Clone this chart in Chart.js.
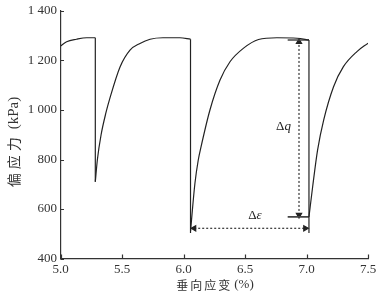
<!DOCTYPE html>
<html lang="zh">
<head>
<meta charset="utf-8">
<title>偏应力-垂向应变</title>
<script src="https://cdn.jsdelivr.net/npm/chart.js@4.4.1/dist/chart.umd.min.js"></script>
<style>
  html, body { margin: 0; padding: 0; background: #fff; }
  #chart { display: block; }
</style>
</head>
<body>
<canvas id="chart" width="387" height="297"></canvas>
<script>
// tick values
const strainTicks = [5.0, 5.5, 6.0, 6.5, 7.0, 7.5];
const stressTicks = [400, 600, 800, 1000, 1200, 1400];

// curve (strain %, deviator stress kPa)
const seg1Strain = [5.0, 5.05, 5.13, 5.213, 5.283];
const seg1Stress = [1259, 1276, 1286, 1292, 1292];

const rec1Strain = [5.283, 5.30, 5.33, 5.37, 5.40, 5.484, 5.565, 5.646, 5.728, 5.833, 5.971, 6.057];
const rec1Stress = [710, 800, 900, 990, 1045, 1174, 1242, 1269, 1286, 1292, 1292, 1286];

const rec2Strain = [6.057, 6.093, 6.12, 6.142, 6.215, 6.297, 6.378, 6.486, 6.61, 6.76, 6.923, 7.02];
const rec2Stress = [510, 704, 798, 850, 1000, 1121, 1195, 1249, 1285, 1292, 1290, 1283];

const rec3Strain = [7.02, 7.05, 7.09, 7.14, 7.22, 7.30, 7.41, 7.5];
const rec3Stress = [568, 690, 838, 960, 1094, 1175, 1236, 1270];

// unloading drops (strain, from, to)
const dropStrain = [5.283, 6.057, 7.02];
const dropTop = [1292, 1286, 1283];
const dropBottom = [710, 503, 503];

// annotation values
const dqStrain = 6.939;
const dqLow = 568;
const dqHigh = 1283;
const markFrom = 6.847;
const deStress = 522;
const deFrom = 6.057;
const deTo = 7.02;

const ink = '#222';
const serif = '"Liberation Serif", "DejaVu Serif", serif';
const cjk = '"Noto Sans CJK SC", sans-serif';

function pts(xs, ys) {
    return xs.map((x, i) => ({x: x, y: ys[i]}));
}

function curve(xs, ys) {
    return {
        data: pts(xs, ys),
        showLine: true,
        borderColor: ink,
        borderWidth: 1.2,
        pointRadius: 0,
        cubicInterpolationMode: 'monotone',
        fill: false
    };
}

function straight(data, extra) {
    return Object.assign({
        data: data,
        showLine: true,
        borderColor: ink,
        borderWidth: 1.2,
        pointRadius: 0,
        tension: 0,
        fill: false
    }, extra || {});
}

const datasets = [
    curve(seg1Strain, seg1Stress),
    curve(rec1Strain, rec1Stress),
    curve(rec2Strain, rec2Stress),
    curve(rec3Strain, rec3Stress)
];

for (let i = 0; i < dropStrain.length; i++) {
    datasets.push(straight([{x: dropStrain[i], y: dropTop[i]}, {x: dropStrain[i], y: dropBottom[i]}]));
}

// short marker lines for Δq
datasets.push(straight([{x: markFrom, y: dqHigh}, {x: deTo, y: dqHigh}], {borderColor: '#444', borderWidth: 1.6}));
datasets.push(straight([{x: markFrom, y: dqLow}, {x: deTo, y: dqLow}], {borderColor: '#444', borderWidth: 1.6}));

// dotted arrows
datasets.push(straight([{x: dqStrain, y: dqLow + 8}, {x: dqStrain, y: dqHigh - 8}], {
    borderDash: [2, 2],
    borderColor: '#333',
    pointStyle: 'triangle',
    pointRadius: 3,
    pointRotation: [180, 0],
    pointBackgroundColor: '#222',
    pointBorderColor: '#222'
}));
datasets.push(straight([{x: deFrom + 0.03, y: deStress}, {x: deTo - 0.03, y: deStress}], {
    borderDash: [2, 2],
    borderColor: '#333',
    pointStyle: 'triangle',
    pointRadius: 3,
    pointRotation: [270, 90],
    pointBackgroundColor: '#222',
    pointBorderColor: '#222'
}));

// draws CJK part with spacing, then the latin unit part in serif
function mixedText(ctx, cn, unit, cx, cy, size, gap) {
    ctx.letterSpacing = gap + 'px';
    ctx.font = size + 'px ' + cjk;
    const w1 = ctx.measureText(cn).width + gap;
    ctx.letterSpacing = '0px';
    ctx.font = (size + 1) + 'px ' + serif;
    const w2 = ctx.measureText(unit).width;
    const x0 = cx - (w1 + w2) / 2;
    ctx.textAlign = 'left';
    ctx.letterSpacing = gap + 'px';
    ctx.font = size + 'px ' + cjk;
    ctx.fillText(cn, x0, cy);
    ctx.letterSpacing = '0px';
    ctx.font = (size + 1) + 'px ' + serif;
    ctx.fillText(unit, x0 + w1, cy);
}

// y tick labels are drawn here so the "1 000" style spacing is exact
function drawYLabels(ctx, ys, area) {
    ctx.fillStyle = '#333';
    ctx.font = '13px ' + serif;
    ctx.textAlign = 'right';
    ctx.textBaseline = 'middle';
    ctx.letterSpacing = '0px';
    stressTicks.forEach(v => {
        ctx.fillText(spaced(v), area.left - 3.5, ys.getPixelForValue(v));
    });
}

const decorPlugin = {
    id: 'decor',
    afterDraw(chart) {
        const ctx = chart.ctx;
        const xs = chart.scales.x;
        const ys = chart.scales.y;
        const area = chart.chartArea;
        ctx.save();

        // inward ticks
        ctx.strokeStyle = '#333';
        ctx.lineWidth = 1.2;
        ctx.beginPath();
        stressTicks.forEach(v => {
            const y = Math.round(ys.getPixelForValue(v)) + 0.5;
            ctx.moveTo(area.left, y);
            ctx.lineTo(area.left + 3.5, y);
        });
        strainTicks.forEach(v => {
            const x = Math.round(xs.getPixelForValue(v)) + 0.5;
            ctx.moveTo(x, area.bottom);
            ctx.lineTo(x, area.bottom - 4);
        });
        ctx.stroke();

        drawYLabels(ctx, ys, area);

        // annotation labels
        ctx.fillStyle = '#222';
        ctx.textBaseline = 'middle';
        function delta(letter, px, py) {
            ctx.font = '13px ' + serif;
            const w1 = ctx.measureText('Δ').width;
            ctx.font = 'italic 13px ' + serif;
            const w2 = ctx.measureText(letter).width;
            let x0 = px - (w1 + w2) / 2;
            ctx.font = '13px ' + serif;
            ctx.textAlign = 'left';
            ctx.fillText('Δ', x0, py);
            ctx.font = 'italic 13px ' + serif;
            ctx.fillText(letter, x0 + w1, py);
        }
        delta('q', xs.getPixelForValue(6.813), ys.getPixelForValue(933));
        delta('ε', xs.getPixelForValue(6.581), ys.getPixelForValue(575));

        // axis titles
        ctx.fillStyle = '#333';
        mixedText(ctx, '垂向应变', '(%)', 215, 285, 12, 2);

        ctx.translate(14, 142);
        ctx.rotate(-Math.PI / 2);
        mixedText(ctx, '偏应力', '(kPa)', 0, 0, 14, 4);
        ctx.restore();
    }
};

function spaced(v) {
    return String(v).replace(/(\d)(\d{3})$/, '$1 $2');
}

new Chart(document.getElementById('chart'), {
    type: 'scatter',
    data: {datasets: datasets},
    plugins: [decorPlugin],
    options: {
        responsive: false,
        animation: false,
        devicePixelRatio: 1,
        layout: {padding: {left: 0, right: 19, top: 11, bottom: 0}},
        plugins: {
            legend: {display: false},
            tooltip: {enabled: false}
        },
        scales: {
            x: {
                type: 'linear',
                min: 5.0,
                max: 7.5,
                afterBuildTicks: s => { s.ticks = strainTicks.map(v => ({value: v})); },
                afterFit: s => { s.height = 38.5; },
                grid: {display: false},
                border: {display: true, color: '#333', width: 1.2},
                ticks: {
                    callback: v => Number(v).toFixed(1),
                    font: {family: serif, size: 13},
                    color: '#333',
                    padding: -5,
                    maxRotation: 0
                }
            },
            y: {
                type: 'linear',
                min: 400,
                max: 1400,
                afterBuildTicks: s => { s.ticks = stressTicks.map(v => ({value: v})); },
                afterFit: s => { s.width = 60.5; },
                grid: {display: false},
                border: {display: true, color: '#333', width: 1.2},
                ticks: {display: false}
            }
        }
    }
});
</script>
</body>
</html>
